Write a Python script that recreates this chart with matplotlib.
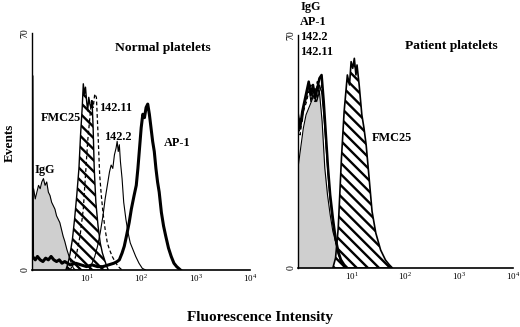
import matplotlib
matplotlib.use('Agg')
import matplotlib.pyplot as plt
import numpy as np
from matplotlib.ticker import NullLocator

plt.rcParams['font.family'] = ['Liberation Serif', 'DejaVu Serif']
plt.rcParams['mathtext.fontset'] = 'custom'
plt.rcParams['mathtext.rm'] = 'Liberation Serif'
plt.rcParams['hatch.linewidth'] = 1.7

# --- Normal platelets (x in log10 fluorescence, y in events) ---
normal_igg_log = [0.00, 0.03, 0.06, 0.09, 0.12, 0.15, 0.18, 0.21, 0.24, 0.27, 0.30, 0.33, 0.36,
                  0.39, 0.42, 0.45, 0.48, 0.51, 0.54, 0.57, 0.60, 0.64, 0.68, 0.72, 0.76, 0.80]
normal_igg = [22, 24, 21, 23, 25, 24, 26, 27, 25, 26, 23, 22, 20,
              19, 18, 16, 15, 14, 12, 10, 8.5, 6, 4, 2, 0.5, 0]

normal_fmc25_log = [0.62, 0.66, 0.70, 0.74, 0.78, 0.82, 0.86, 0.89, 0.92, 0.94, 0.96, 0.98, 1.00,
                    1.02, 1.04, 1.06, 1.08, 1.10, 1.12, 1.14, 1.17, 1.21, 1.25, 1.29, 1.33, 1.37, 1.40]
normal_fmc25 = [0, 2, 5, 9, 15, 22, 30, 40, 48, 55, 52, 54, 50,
                47, 51, 49, 48, 50, 42, 30, 20, 13, 8, 5, 3, 1, 0]

normal_14211_log = [0.70, 0.76, 0.82, 0.88, 0.94, 0.98, 1.02, 1.06, 1.09, 1.12, 1.15, 1.18, 1.21,
                    1.24, 1.27, 1.30, 1.34, 1.38, 1.42, 1.47, 1.52, 1.58, 1.65]
normal_14211 = [0, 2, 5, 10, 18, 28, 38, 45, 50, 48, 52, 51, 40,
                28, 22, 17, 12, 8, 6, 4, 2.5, 1, 0]

normal_1422_log = [1.05, 1.10, 1.15, 1.20, 1.25, 1.30, 1.34, 1.38, 1.42, 1.45, 1.48, 1.51, 1.54,
                   1.56, 1.58, 1.60, 1.62, 1.65, 1.68, 1.72, 1.76, 1.80, 1.85, 1.90, 1.96, 2.02, 2.08]
normal_1422 = [0, 2, 4, 7, 11, 16, 21, 25, 29, 31, 30, 34, 36,
               38, 35, 37, 32, 27, 20, 15, 11, 8, 6, 4, 2, 0.5, 0]

normal_ap1_log = [0.00, 0.01, 0.06, 0.10, 0.15, 0.20, 0.25, 0.30, 0.35, 0.40, 0.45, 0.50, 0.55,
                  0.60, 0.70, 0.80, 0.90, 1.00, 1.10, 1.20, 1.30, 1.40, 1.50, 1.56, 1.60, 1.65,
                  1.69, 1.73, 1.78, 1.82, 1.87, 1.91, 1.94, 1.97, 2.00, 2.03, 2.06, 2.09, 2.12,
                  2.15, 2.18, 2.21, 2.24, 2.27, 2.30, 2.33, 2.37, 2.41, 2.45, 2.50, 2.55, 2.60,
                  2.65, 2.72]
normal_ap1 = [57, 4, 3, 4, 3, 2.5, 3.5, 3, 4, 3, 2.5, 3, 2,
              2.5, 1.5, 2, 1.5, 1, 1.5, 1, 1, 1.5, 2, 2.5, 3, 5,
              7, 10, 14, 18, 22, 25, 30, 36, 42, 46, 45, 48, 49,
              46, 42, 38, 35, 30, 26, 23, 17, 13, 10, 6.5, 4, 2,
              1, 0]

# --- Patient platelets ---
patient_igg_log = [0.00, 0.05, 0.10, 0.15, 0.20, 0.25, 0.30, 0.35, 0.40, 0.45, 0.50, 0.55,
                   0.60, 0.65, 0.70, 0.75, 0.80, 0.85, 0.90]
patient_igg = [30, 36, 42, 46, 48, 50, 52, 50, 53, 44, 30, 22, 16, 11, 8, 5, 2, 0.5, 0]

patient_ap1_log = [0.00, 0.04, 0.08, 0.12, 0.16, 0.20, 0.24, 0.28, 0.32, 0.36, 0.40, 0.44,
                   0.48, 0.52, 0.56, 0.60, 0.65, 0.70, 0.75, 0.80, 0.86, 0.92]
patient_ap1 = [46, 42, 47, 50, 53, 56, 52, 55, 51, 54, 57, 58,
               50, 40, 30, 22, 15, 9, 5, 2.5, 1, 0]

patient_1422_log = [0.00, 0.04, 0.08, 0.12, 0.16, 0.20, 0.24, 0.28, 0.32, 0.36, 0.40, 0.44,
                    0.48, 0.52, 0.56, 0.60, 0.65, 0.70, 0.75, 0.80, 0.86, 0.92]
patient_1422 = [42, 45, 44, 49, 51, 55, 50, 53, 54, 51, 55, 53,
                46, 37, 28, 20, 13, 8, 4, 2, 0.8, 0]

patient_14211_log = [0.00, 0.04, 0.08, 0.12, 0.16, 0.20, 0.24, 0.28, 0.32, 0.36, 0.40, 0.44,
                     0.48, 0.52, 0.56, 0.60, 0.65, 0.70, 0.75, 0.80, 0.86, 0.92]
patient_14211 = [44, 40, 46, 48, 50, 53, 55, 51, 50, 56, 53, 55,
                 48, 39, 29, 21, 14, 8, 4.5, 2, 0.8, 0]

patient_fmc25_log = [0.65, 0.70, 0.75, 0.81, 0.86, 0.92, 0.96, 0.99, 1.02, 1.05, 1.08, 1.10,
                     1.14, 1.19, 1.23, 1.27, 1.32, 1.38, 1.45, 1.54, 1.63, 1.70, 1.76]
patient_fmc25 = [0, 3, 12, 33, 47, 58, 55, 62, 60, 63, 58, 61,
                 55, 46, 42, 37, 28, 17, 10.5, 5.4, 2.4, 1, 0]

tick_values = [10, 100, 1000, 10000]
tick_labels = ['$10^{1}$', '$10^{2}$', '$10^{3}$', '$10^{4}$']

GRAY = '#cfcfcf'
HATCH = '\\\\\\'


def x_of(logs):
    return 10 ** np.array(logs)


def style_axes(ax):
    ax.set_xscale('log')
    ax.set_xlim(1, 10000)
    ax.set_ylim(0, 70)
    ax.spines['top'].set_visible(False)
    ax.spines['right'].set_visible(False)
    ax.spines['left'].set_linewidth(1.0)
    ax.spines['bottom'].set_linewidth(1.2)
    ax.set_xticks(tick_values)
    ax.set_xticklabels(tick_labels, fontsize=6.5)
    ax.xaxis.set_minor_locator(NullLocator())
    ax.set_yticks([0, 70])
    ax.set_yticklabels(['0', '70'], fontsize=7, rotation=90, va='center')
    ax.tick_params(length=0, pad=2)
    ax.patch.set_alpha(0)


fig = plt.figure(figsize=(5.2, 3.27), dpi=100)
ax1 = fig.add_axes([0.0615, 0.1743, 0.42, 0.7248])
ax2 = fig.add_axes([0.573, 0.1804, 0.413, 0.7125])

# Normal platelets
ax1.fill_between(x_of(normal_igg_log), normal_igg, color=GRAY, lw=0)
ax1.plot(x_of(normal_igg_log), normal_igg, color='black', lw=0.8)
ax1.fill_between(x_of(normal_fmc25_log), normal_fmc25, facecolor='white',
                 edgecolor='black', hatch=HATCH, lw=1.0)
ax1.plot(x_of(normal_14211_log), normal_14211, color='black', lw=0.9, ls=(0, (3, 2)))
ax1.plot(x_of(normal_1422_log), normal_1422, color='black', lw=0.8)
ax1.plot(x_of(normal_ap1_log), normal_ap1, color='black', lw=2.2)
style_axes(ax1)

bold = dict(fontweight='bold', color='black')
ax1.text(10 ** 2.4, 65.6, 'Normal platelets', ha='center', va='center', fontsize=9.7, **bold)
ax1.text(10 ** 0.9, 44.9, 'FMC25', ha='right', va='center', fontsize=8.8, **bold)
ax1.text(10 ** 1.236, 47.8, '142.11', ha='left', va='center', fontsize=8.8, **bold)
ax1.text(10 ** 1.57, 39.3, '142.2', ha='center', va='center', fontsize=8.8, **bold)
ax1.text(10 ** 2.42, 37.5, 'AP-1', ha='left', va='center', fontsize=8.8, **bold)
ax1.text(10 ** 0.24, 29.5, 'IgG', ha='center', va='center', fontsize=8.8, **bold)

# Patient platelets
ax2.fill_between(x_of(patient_igg_log), patient_igg, color=GRAY, lw=0)
ax2.plot(x_of(patient_igg_log), patient_igg, color='black', lw=0.8)
ax2.fill_between(x_of(patient_fmc25_log), patient_fmc25, facecolor='white',
                 edgecolor='black', hatch=HATCH, lw=1.2)
ax2.plot(x_of(patient_14211_log), patient_14211, color='black', lw=0.9, ls=(0, (3, 2)))
ax2.plot(x_of(patient_1422_log), patient_1422, color='black', lw=0.8)
ax2.plot(x_of(patient_ap1_log), patient_ap1, color='black', lw=1.8)
style_axes(ax2)

for label, yv in zip(['IgG', 'AP-1', '142.2', '142.11'], [78.4, 73.9, 69.4, 64.9]):
    ax2.text(10 ** 0.04, yv, label, ha='left', va='center', fontsize=8.8, clip_on=False, **bold)
ax2.text(10 ** 2.85, 66.7, 'Patient platelets', ha='center', va='center', fontsize=9.7, **bold)
ax2.text(10 ** 1.38, 39, 'FMC25', ha='left', va='center', fontsize=8.8, **bold)

fig.text(10 / 520, 1 - 143 / 327, 'Events', rotation=90, ha='center', va='center',
         fontsize=9.5, **bold)
fig.text(0.5, 1 - 318 / 327, 'Fluorescence Intensity', ha='center', va='center',
         fontsize=11, **bold)

plt.savefig('out.png', dpi=100)
plt.close()
